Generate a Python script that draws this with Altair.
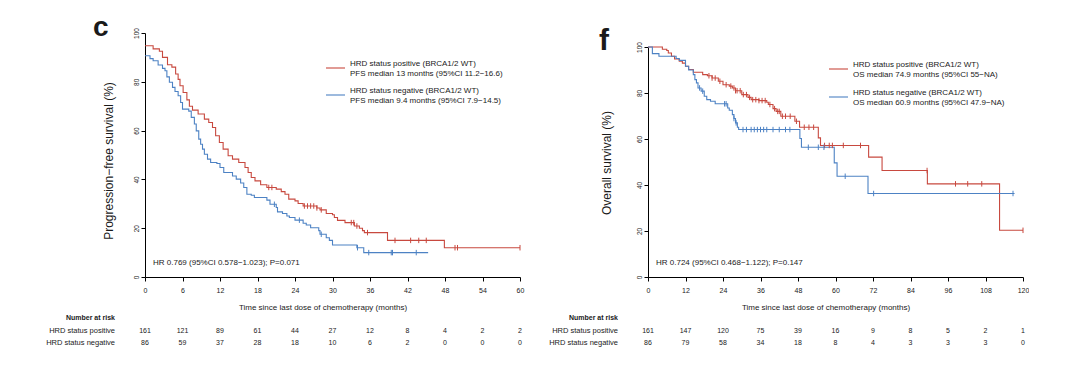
import altair as alt
import pandas as pd

RED = "#c8493f"
BLUE = "#4d82c4"
FONT = "Liberation Sans"
POS = "HRD status positive"
NEG = "HRD status negative"

# ---------- Panel c : progression-free survival ----------
pfs_pos_t = [0, 1.3, 2.3, 2.8, 3.6, 4.3, 4.9, 5.3, 5.6, 6.1, 6.7, 7.1, 7.6, 8.5, 9.5, 10.2, 10.8, 11.3, 11.9, 12.5,
             13.3, 14, 15, 16, 16.5, 17, 17.6, 18.5, 19.5, 21, 21.8, 22.4, 23, 24, 24.5, 25.3, 27.5, 28, 29, 30,
             30.3, 30.8, 32, 33.5, 34.3, 34.8, 35.1, 38.8, 47.9, 60]
pfs_pos_s = [94.8, 93.5, 92.5, 90, 87, 86, 83.2, 81, 78.4, 75.6, 72.6, 70, 68.4, 66.8, 64.7, 63.3, 61.3, 57.9, 55.1, 52.4,
             49.7, 48.3, 46.9, 44.9, 42.8, 40.8, 39.4, 37.8, 36.7, 36, 35, 33.9, 31.9, 31.2, 30.1, 29.1, 28.3, 27.5, 26, 25.5,
             24.4, 23.2, 22.3, 20.9, 20, 19, 18.2, 15, 12, 12]
pfs_neg_t = [0, 0.8, 1.3, 2.1, 2.8, 3.2, 3.5, 3.9, 4.4, 4.8, 5.3, 5.7, 6.0, 7.0, 7.4, 7.9, 8.2, 8.6, 8.9, 9.2,
             9.5, 10.0, 10.5, 11.5, 12.0, 12.6, 14.0, 14.6, 15.3, 15.8, 16.3, 17.0, 17.5, 19.5, 20.0, 21.0, 21.2, 22.0, 22.7, 23.1,
             24.0, 25.3, 25.8, 26.5, 27.8, 28.0, 29.0, 29.5, 30.0, 33.9, 35.0, 45.3]
pfs_neg_s = [90.7, 89.5, 88.6, 86.9, 85.5, 84.5, 82, 79.8, 77.7, 76, 74.3, 71.5, 68.8, 68, 65.4, 62.7, 59.9, 56.5, 54.4, 52.4,
             50.3, 48.3, 46.9, 46.5, 44.9, 42.8, 41.4, 40.1, 38.5, 36.7, 33.9, 33.5, 32.6, 31.5, 29.8, 28.5, 26.7, 26, 25, 24.4,
             23.3, 22, 21.3, 20.2, 19, 17.5, 16.1, 15, 13.1, 12, 10, 10]
pfs_pos_cens = [19.8, 20.3, 25.5, 26.0, 26.5, 27.0, 27.5, 28.2, 33.0, 33.4, 33.9, 35.6, 40.0, 42.5, 43.8, 45.0, 49.6, 50.0, 60.0]
pfs_neg_cens = [20.7, 24.7, 28.2, 34.0, 35.8, 39.4, 39.6, 43.4]
pfs_ticks = [0, 6, 12, 18, 24, 30, 36, 42, 48, 54, 60]
pfs_risk_pos = [161, 121, 89, 61, 44, 27, 12, 8, 4, 2, 2]
pfs_risk_neg = [86, 59, 37, 28, 18, 10, 6, 2, 0, 0, 0]

# ---------- Panel f : overall survival ----------
os_pos_t = [0, 4.6, 6, 6.5, 7.5, 8.5, 10, 11, 12, 13, 14.5, 17.5, 19, 20.5, 22.5, 24, 26, 27, 28, 30,
            32, 33, 35.5, 38, 38.5, 40, 41, 42.5, 47, 48.5, 54.5, 55.2, 70.6, 74.9, 89.4, 112.5, 120]
os_pos_s = [100, 99, 98.5, 97.4, 96, 94.8, 93.8, 93, 91.6, 90.2, 89, 88, 87.5, 86.5, 85.1, 83.6, 83, 82.2, 81, 79.3,
            78.1, 77.1, 76.7, 76, 75, 73.2, 72, 69.9, 67.7, 65.1, 60.5, 57.2, 52.1, 46.3, 40.5, 20.3, 20.3]
os_neg_t = [0, 1.4, 3.5, 9, 10, 12, 13, 14.5, 15, 15.5, 16, 17, 18, 18.8, 20, 21.5, 25.5, 26, 27, 27.5,
            28, 28.6, 29, 48.6, 49.1, 59.6, 60.5, 70.4, 117.3]
os_neg_s = [100, 97.1, 96, 95, 94.2, 91.6, 90, 88, 85.8, 84.4, 82.2, 80.8, 78.6, 77.1, 76.4, 75.3, 73.5, 72.5, 70.6, 68.9,
            67, 65.1, 64.1, 60.2, 56.4, 49.6, 43.8, 36.3, 36.3]
os_pos_cens = [19.5, 20.5, 21.5, 23, 25, 26.5, 27.5, 28, 28.5, 29.5, 30.5, 31.5, 32.5, 33.5, 34.5, 35.5, 36.5, 37.5, 39,
               40.5, 41.5, 42, 43, 44, 45.5, 47.5, 50, 51.5, 53, 56.5, 58, 59, 62.5, 68, 89.3, 98.4, 102.3, 106.8, 120]
os_neg_cens = [16.5, 17.5, 24.5, 25, 27.5, 28.2, 30.4, 31.5, 33, 34, 35, 36, 37, 38, 40, 42, 44, 45.4, 51.3, 54.5, 56.3,
               63.1, 72.2, 116.8]
os_ticks = [0, 12, 24, 36, 48, 60, 72, 84, 96, 108, 120]
os_risk_pos = [161, 147, 120, 75, 39, 16, 9, 8, 5, 2, 1]
os_risk_neg = [86, 79, 58, 34, 18, 8, 4, 3, 3, 3, 0]


def step_value(ts, ss, t):
    v = ss[0]
    for ti, si in zip(ts, ss):
        if ti <= t:
            v = si
    return v


ONE = pd.DataFrame({"a": [0]})
color_scale = alt.Scale(domain=[POS, NEG], range=[RED, BLUE])


def txt(text, x, y, size=8, align="left", weight="normal", angle=0, baseline="middle"):
    kw = dict(text=text, font=FONT, fontSize=size, align=align, baseline=baseline,
              fontWeight=weight, color="#1a1a1a")
    if angle:
        kw["angle"] = angle
    return alt.Chart(ONE).mark_text(**kw).encode(x=alt.value(x), y=alt.value(y))


def panel(letter, letter_dx, letter_dy, letter_size, ytitle, ytitle_dx, ytitle_dy,
          pos_t, pos_s, neg_t, neg_s, pos_c, neg_c, ticks, rp, rn, xmax,
          legend_lines, legend_y, hr_text, yrange, anchor=False):
    curves = pd.DataFrame({
        "t": pos_t + neg_t,
        "s": pos_s + neg_s,
        "g": [POS] * len(pos_t) + [NEG] * len(neg_t),
    })
    cens = pd.DataFrame({
        "t": pos_c + neg_c,
        "s": [step_value(pos_t, pos_s, c) for c in pos_c] + [step_value(neg_t, neg_s, c) for c in neg_c],
        "g": [POS] * len(pos_c) + [NEG] * len(neg_c),
    })
    risk_pos = pd.DataFrame({"t": ticks, "n": [str(v) for v in rp]})
    risk_neg = pd.DataFrame({"t": ticks, "n": [str(v) for v in rn]})
    xs = alt.Scale(domain=[0, xmax], nice=False, zero=False)
    ys = alt.Scale(domain=[0, 100], nice=False, range=yrange)
    xax = alt.Axis(values=ticks, title=None, labelFontSize=7, labelFont=FONT, tickSize=4, labelPadding=5,
                   grid=False, domainColor="black", tickColor="black", labelColor="#1a1a1a", labelFlush=False,
                   labelOverlap=False, labelSeparation=0, tickCount=len(ticks))
    yax = alt.Axis(values=[0, 20, 40, 60, 80, 100], title=None, labelFontSize=6.5, labelFont=FONT, tickSize=4,
                   labelAngle=270, labelPadding=2, grid=False, domainColor="black", tickColor="black",
                   labelColor="#1a1a1a", labelFlush=False, labelOverlap=False)

    X = alt.X("t:Q", scale=xs, axis=xax)
    Y = alt.Y("s:Q", scale=ys, axis=yax)
    line = alt.Chart(curves).mark_line(interpolate="step-after", strokeWidth=1.1).encode(
        x=X, y=Y,
        color=alt.Color("g:N", scale=color_scale, legend=None),
        detail="g:N",
    )
    cmarks = alt.Chart(cens).mark_point(shape="M0,-1L0,1", size=30, strokeWidth=1, filled=False, opacity=1).encode(
        x=X, y=Y,
        color=alt.Color("g:N", scale=color_scale, legend=None),
    )
    rtext_pos = alt.Chart(risk_pos).mark_text(font=FONT, fontSize=7, color="#1a1a1a").encode(
        x=X, y=alt.value(298), text="n:N")
    rtext_neg = alt.Chart(risk_neg).mark_text(font=FONT, fontSize=7, color="#1a1a1a").encode(
        x=X, y=alt.value(310), text="n:N")
    layers = [line, cmarks, rtext_pos, rtext_neg]

    # legend
    ly = legend_y
    layers.append(alt.Chart(ONE).mark_rule(color=RED, strokeWidth=1.1).encode(
        x=alt.value(181), x2=alt.value(200), y=alt.value(ly[0])))
    layers.append(alt.Chart(ONE).mark_rule(color=BLUE, strokeWidth=1.1).encode(
        x=alt.value(181), x2=alt.value(200), y=alt.value(ly[1])))
    layers.append(txt(legend_lines[0], 205, ly[0] - 4))
    layers.append(txt(legend_lines[1], 205, ly[0] + 6))
    layers.append(txt(legend_lines[2], 205, ly[1] - 4))
    layers.append(txt(legend_lines[3], 205, ly[1] + 6))
    # HR
    layers.append(txt(hr_text, 8, 230))
    # titles
    layers.append(txt("Time since last dose of chemotherapy (months)", 178, 275, size=8, align="center"))
    layers.append(txt(ytitle, ytitle_dx, ytitle_dy, size=12, align="center", angle=270))
    layers.append(txt(letter, letter_dx, letter_dy, size=letter_size, weight="bold", baseline="alphabetic"))
    # number at risk
    layers.append(txt("Number at risk", -30, 285, size=7, align="right", weight="bold"))
    layers.append(txt("HRD status positive", -30, 298, size=7.5, align="right"))
    layers.append(txt("HRD status negative", -30, 310, size=7.5, align="right"))
    if anchor:
        layers.append(alt.Chart(ONE).mark_point(size=1, opacity=0).encode(x=alt.value(-136), y=alt.value(-24)))

    return alt.layer(*layers).properties(width=375, height=244)


left = panel("c", -52, 3, 28, "Progression\u2212free survival (%)", -36, 128,
             pfs_pos_t, pfs_pos_s, pfs_neg_t, pfs_neg_s, pfs_pos_cens, pfs_neg_cens,
             pfs_ticks, pfs_risk_pos, pfs_risk_neg, 60,
             ["HRD status positive (BRCA1/2 WT)", "PFS median 13 months (95%CI 11.2\u221216.6)",
              "HRD status negative (BRCA1/2 WT)", "PFS median 9.4 months (95%CI 7.9\u221214.5)"],
             [35, 62], "HR 0.769 (95%CI 0.578\u22121.023); P=0.071", [244, 0], anchor=True)

right = panel("f", -49, 17, 30, "Overall survival (%)", -41, 130,
              os_pos_t, os_pos_s, os_neg_t, os_neg_s, os_pos_cens, os_neg_cens,
              os_ticks, os_risk_pos, os_risk_neg, 120,
              ["HRD status positive (BRCA1/2 WT)", "OS median 74.9 months (95%CI 55\u2212NA)",
               "HRD status negative (BRCA1/2 WT)", "OS median 60.9 months (95%CI 47.9\u2212NA)"],
             [36, 64], "HR 0.724 (95%CI 0.468\u22121.122); P=0.147", [244, 14])

chart = alt.hconcat(left, right, spacing=128, bounds="flush").properties(
    padding=0, background="white"
).configure_view(stroke=None).configure_axis(labelFont=FONT, labelOverlap=False)

chart.save("out.html", embed_options={"renderer": "svg", "actions": False})
